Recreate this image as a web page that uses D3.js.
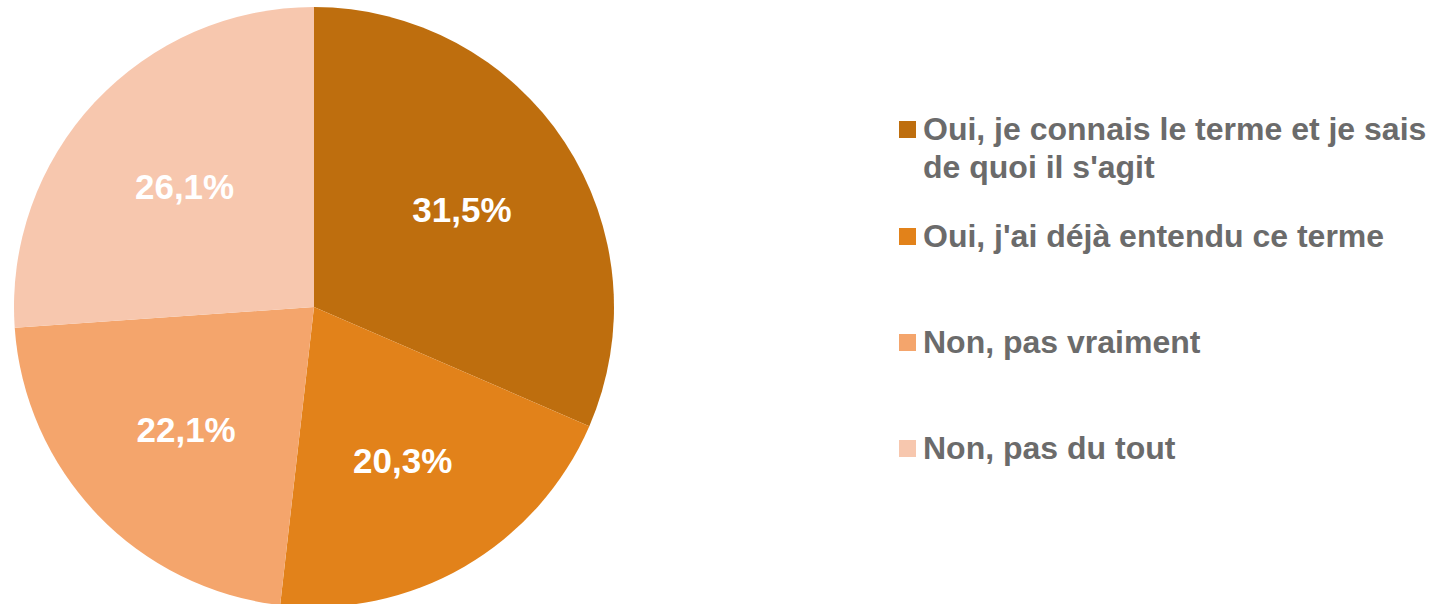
<!DOCTYPE html>
<html><head><meta charset="utf-8">
<script src="https://cdn.jsdelivr.net/npm/d3@7"></script>
<style>body{margin:0;background:#fff;}svg{display:block;}</style>
</head><body>
<svg id="chart" width="1435" height="604"></svg>
<script>
const categories = ["Oui, je connais le terme et je sais de quoi il s'agit", "Oui, j'ai déjà entendu ce terme", "Non, pas vraiment", "Non, pas du tout"];
const legendLines = [["Oui, je connais le terme et je sais", "de quoi il s'agit"], ["Oui, j'ai déjà entendu ce terme"], ["Non, pas vraiment"], ["Non, pas du tout"]];
const values = [31.5, 20.3, 22.1, 26.1];
const labels = ["31,5%", "20,3%", "22,1%", "26,1%"];
const colors = ["#BE6E0E", "#E2821A", "#F4A56C", "#F7C7AE"];

const svg = d3.select("#chart");
const cx = 314, cy = 307, R = 300;
const font = "'Liberation Sans', Arial, sans-serif";

const pie = d3.pie().sort(null).value(d => d)(values);
const arc = d3.arc().innerRadius(0).outerRadius(R);
const labelArc = d3.arc().innerRadius(R * 0.59).outerRadius(R * 0.59);

const g = svg.append("g").attr("transform", `translate(${cx},${cy})`);
g.selectAll("path").data(pie).enter().append("path")
  .attr("d", arc).attr("fill", (d, i) => colors[i]);

g.selectAll("text").data(pie).enter().append("text")
  .attr("transform", d => `translate(${labelArc.centroid(d)})`)
  .attr("text-anchor", "middle").attr("dominant-baseline", "central")
  .attr("font-family", font).attr("font-weight", "bold").attr("font-size", 35)
  .attr("fill", "#fff").text((d, i) => labels[i]);

const legendY = d3.scaleOrdinal().domain(categories).range([140, 247, 353, 459]);
const lg = svg.append("g");
categories.forEach((c, i) => {
  const y = legendY(c);
  lg.append("rect").attr("x", 899).attr("y", y - 19).attr("width", 17).attr("height", 17).attr("fill", colors[i]);
  const t = lg.append("text").attr("x", 923).attr("y", y)
    .attr("font-family", font).attr("font-weight", "bold").attr("font-size", 32).attr("fill", "#6B6B6B");
  legendLines[i].forEach((l, j) => {
    t.append("tspan").attr("x", 923).attr("dy", j === 0 ? 0 : 38).text(l);
  });
});
</script>
</body></html>
